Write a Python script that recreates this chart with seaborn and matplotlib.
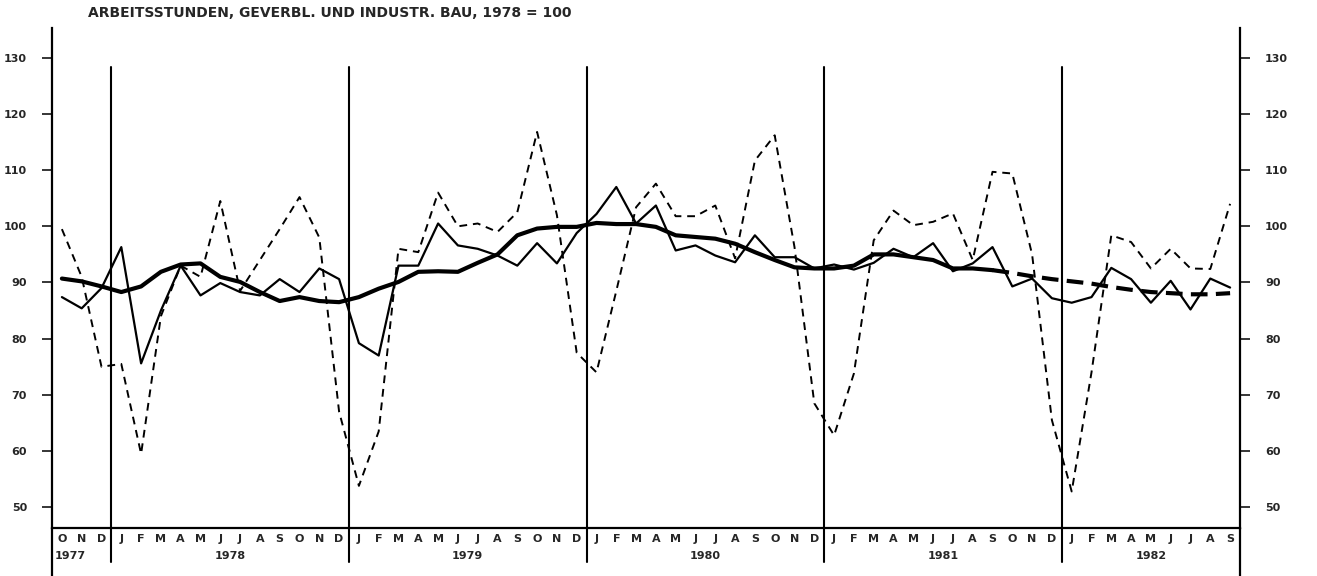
import numpy as np
import pandas as pd
import matplotlib.pyplot as plt
import seaborn as sns

# month letters Oct 1977 .. Sep 1982
months = ["O", "N", "D"] + ["J", "F", "M", "A", "M", "J", "J", "A", "S", "O", "N", "D"] * 4 \
    + ["J", "F", "M", "A", "M", "J", "J", "A", "S"]
years = ["1977", "1978", "1979", "1980", "1981", "1982"]
year_start = [0, 3, 15, 27, 39, 51]

# original series (dashed)
raw = [99.5, 91, 75, 75.5, 59.5, 84, 93, 91, 104.5, 88.5, 94, 99.5,
       105.2, 98, 67, 53.8, 63.5, 96, 95.4, 106, 100, 100.5, 99, 102.5,
       116.8, 102, 77.5, 74, 88.5, 103.4, 107.6, 101.8, 101.8, 103.7, 94.3, 111.7,
       116.2, 96.3, 68.5, 62.8, 73.8, 97.5, 102.8, 100.2, 100.8, 102.3, 94, 109.7,
       109.4, 95, 65.5, 52.8, 74, 98.4, 97.2, 92.5, 96, 92.5, 92.4, 104]

# seasonally adjusted (thin solid)
adjusted = [87.4, 85.4, 89, 96.3, 75.6, 85, 93, 87.7, 89.9, 88.3, 87.7, 90.6,
            88.3, 92.5, 90.6, 79.2, 77, 93, 93, 100.5, 96.6, 96, 94.8, 93,
            97, 93.4, 98.8, 102.2, 107, 100.5, 103.7, 95.7, 96.6, 94.8, 93.6, 98.4,
            94.5, 94.5, 92.5, 93.2, 92.3, 93.5, 96, 94.5, 97, 92, 93.4, 96.3,
            89.3, 90.7, 87.2, 86.4, 87.4, 92.6, 90.6, 86.4, 90.3, 85.2, 90.7, 89.1]

# trend (thick), dashed after Sep 1981
trend = [90.7, 90.2, 89.3, 88.3, 89.3, 91.9, 93.2, 93.4, 91, 90.1, 88.3, 86.7,
         87.4, 86.7, 86.5, 87.4, 88.9, 90.1, 91.9, 92, 91.9, 93.5, 95, 98.4,
         99.6, 99.9, 99.9, 100.6, 100.4, 100.4, 99.9, 98.4, 98.1, 97.8, 96.9, 95.4,
         94, 92.7, 92.5, 92.5, 93, 95, 95, 94.5, 94, 92.5, 92.5, 92.2,
         91.7, 91.1, 90.6, 90.2, 89.8, 89.2, 88.7, 88.3, 88.1, 87.9, 87.9, 88.1]
trend_solid_end = 47

yticks = [50, 60, 70, 80, 90, 100, 110, 120, 130]

n = len(months)
x = np.arange(n) + 0.5
df = pd.DataFrame({"x": x, "raw": raw, "adjusted": adjusted, "trend": trend})

sns.set_style("white")
plt.rcParams["font.family"] = ["DejaVu Sans"]

fig = plt.figure(figsize=(13.17, 5.76), dpi=100)
ax = fig.add_axes([52 / 1317, 48 / 576, 1188 / 1317, 500 / 576])

sns.lineplot(data=df, x="x", y="raw", ax=ax, color="black", linewidth=1.4,
             linestyle=(0, (4, 3)))
sns.lineplot(data=df, x="x", y="adjusted", ax=ax, color="black", linewidth=1.6)
sns.lineplot(data=df.iloc[:trend_solid_end + 1], x="x", y="trend", ax=ax,
             color="black", linewidth=3)
sns.lineplot(data=df.iloc[trend_solid_end:], x="x", y="trend", ax=ax,
             color="black", linewidth=3, linestyle=(0, (4, 2)))

ax.set_xlim(0, n)
ax.set_ylim(46.3, 135.3)
ax.set_xlabel("")
ax.set_ylabel("")

# year separators
for s in year_start[1:]:
    ax.plot([s, s], [128.3, 40.2], color="black", linewidth=1.5, clip_on=False)

# axis lines running down past the month row
for xe in [0, n]:
    ax.plot([xe, xe], [46.3, 37.6], color="black", linewidth=1.6, clip_on=False)

for side in ["left", "right", "bottom"]:
    ax.spines[side].set_linewidth(1.6)
    ax.spines[side].set_color("black")
ax.spines["top"].set_visible(False)

ax.set_yticks(yticks)
ax.set_yticklabels([str(v) for v in yticks])
ax.tick_params(axis="y", which="both", direction="out", length=7, width=1.3,
               left=True, right=True, labelleft=True, labelright=True,
               labelsize=8, pad=11)
for lab in ax.get_yticklabels():
    lab.set_fontweight("bold")

ax.set_xticks(x)
ax.set_xticklabels(months, fontsize=8, fontweight="bold")
ax.set_xticks(np.arange(n + 1), minor=True)
ax.tick_params(axis="x", which="major", length=0, pad=4)
ax.tick_params(axis="x", which="minor", direction="out", length=5, width=1)

for i, yr in enumerate(years):
    if i == 0:
        ax.text(0.15, 41.4, yr, ha="left", va="center", fontsize=8, fontweight="bold")
    else:
        end = year_start[i + 1] if i + 1 < len(year_start) else n
        ax.text((year_start[i] + end) / 2, 41.4, yr, ha="center", va="center",
                fontsize=8, fontweight="bold")

fig.text(88 / 1317, 1 - 13 / 576, "ARBEITSSTUNDEN, GEVERBL. UND INDUSTR. BAU, 1978 = 100",
         ha="left", va="center", fontsize=10, fontweight="bold")

fig.savefig("out.png", dpi=100)
